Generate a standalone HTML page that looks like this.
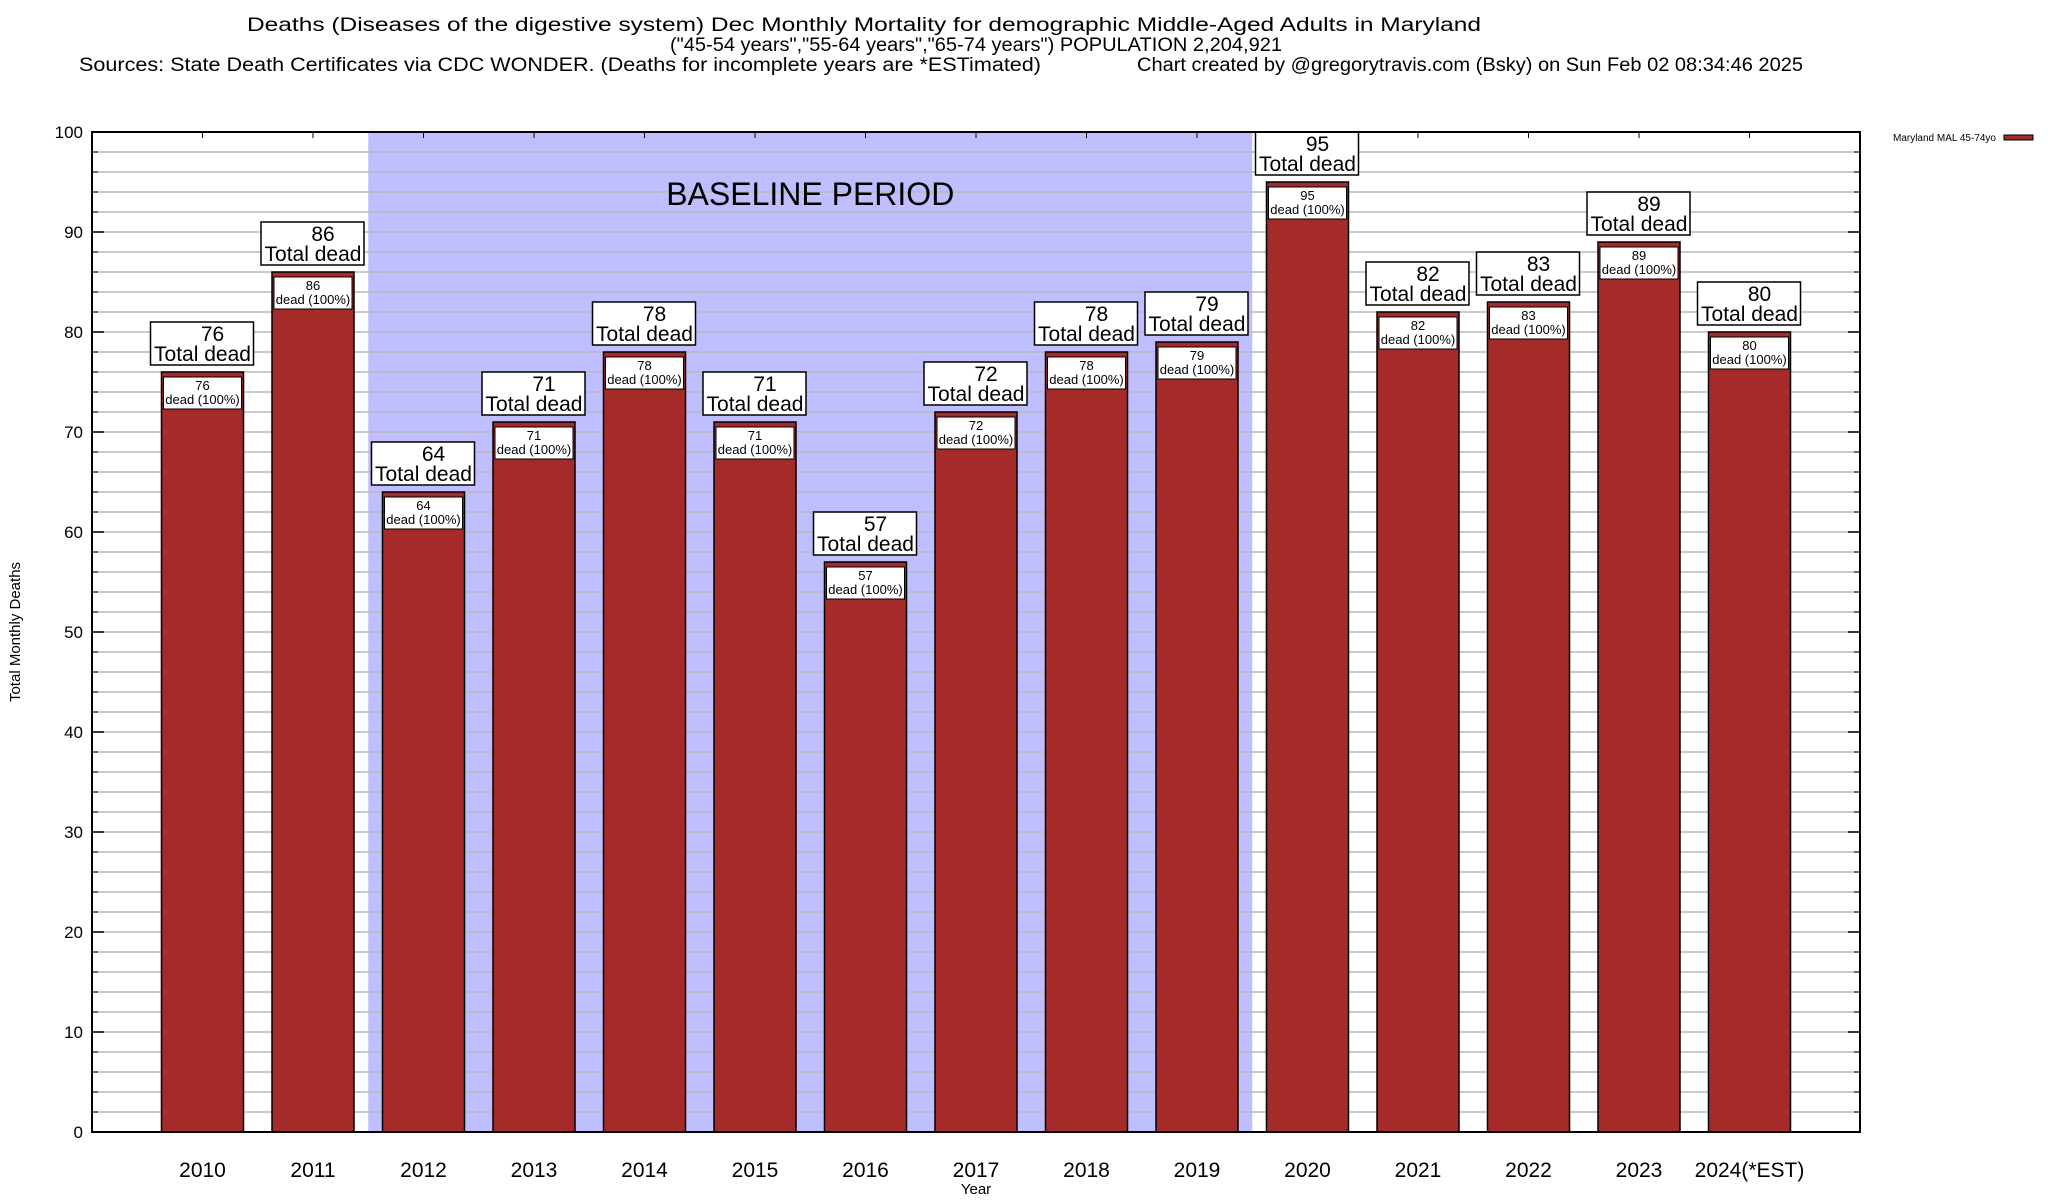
<!DOCTYPE html>
<html><head><meta charset="utf-8"><style>
body{margin:0;background:#fff}
svg{display:block;font-family:"Liberation Sans",sans-serif}
</style></head><body>
<svg id="chart" width="2048" height="1200" viewBox="0 0 2048 1200" xmlns="http://www.w3.org/2000/svg">
<g font-size="19" text-anchor="start">
<text x="247" y="31" textLength="1234" lengthAdjust="spacingAndGlyphs">Deaths (Diseases of the digestive system) Dec Monthly Mortality for demographic Middle-Aged Adults in Maryland</text>
<text x="670" y="51" textLength="612" lengthAdjust="spacingAndGlyphs">("45-54 years","55-64 years","65-74 years") POPULATION 2,204,921</text>
<text x="79" y="71" textLength="962" lengthAdjust="spacingAndGlyphs">Sources: State Death Certificates via CDC WONDER. (Deaths for incomplete years are *ESTimated)</text>
<text x="1137" y="71" textLength="666" lengthAdjust="spacingAndGlyphs">Chart created by @gregorytravis.com (Bsky) on Sun Feb 02 08:34:46 2025</text>
</g>
<g id="plot"></g>
<text x="20" y="632" font-size="15" text-anchor="middle" transform="rotate(-90 20 632)">Total Monthly Deaths</text>
<text x="976" y="1194" font-size="15" text-anchor="middle">Year</text>
<g>
<text x="1996" y="141" font-size="10" text-anchor="end">Maryland MAL 45-74yo</text>
<rect x="2004" y="135" width="29" height="5" fill="#a52a2a" stroke="#000" stroke-width="1"/>
</g>
</svg>
<script>
const categories=["2010","2011","2012","2013","2014","2015","2016","2017","2018","2019","2020","2021","2022","2023","2024(*EST)"];
const values=[76,86,64,71,78,71,57,72,78,79,95,82,83,89,80];
const yTicks=[0,10,20,30,40,50,60,70,80,90,100];
const baselineStart=2, baselineEnd=9;
const L=92,R=1860,T=132,B=1132,ymax=100;
const step=(R-L)/(categories.length+1);
const xs=i=>L+step*(i+1);
const ys=v=>B-(B-T)*v/ymax;
const NS="http://www.w3.org/2000/svg";
const g=document.getElementById('plot');
function mk(t,a,p){const e=document.createElementNS(NS,t);for(const k in a)e.setAttribute(k,a[k]);(p||g).appendChild(e);return e;}
let sh=mk('rect',{x:xs(baselineStart-0.5),y:T,width:xs(baselineEnd+0.5)-xs(baselineStart-0.5),height:B-T,fill:'#bfbfff'});


for(let v=2;v<ymax;v+=2){
 let ln=mk('line',{x1:L,x2:R,y1:ys(v),y2:ys(v),stroke:'#b8b8b8','stroke-width':1.5});
 
 
 mk('line',{x1:L,x2:L+6,y1:ys(v),y2:ys(v),stroke:'#000','stroke-width':1});
 mk('line',{x1:R-6,x2:R,y1:ys(v),y2:ys(v),stroke:'#000','stroke-width':1});
}
let bt=mk('text',{x:(xs(baselineStart-0.5)+xs(baselineEnd+0.5))/2,y:205,'font-size':32,'text-anchor':'middle'});
bt.textContent='BASELINE PERIOD';


yTicks.forEach(v=>{
 mk('line',{x1:L,x2:L+12,y1:ys(v),y2:ys(v),stroke:'#000','stroke-width':1.5});
 mk('line',{x1:R-12,x2:R,y1:ys(v),y2:ys(v),stroke:'#000','stroke-width':1.5});
 let t=mk('text',{x:83,y:ys(v)+6,'font-size':17,'text-anchor':'end'});
 t.textContent=v;
 
 
});
const bw=82;
values.forEach((v,i)=>{
 const cx=xs(i), top=ys(v);
 mk('line',{x1:cx,x2:cx,y1:T,y2:T+6,stroke:'#000','stroke-width':1});
 let b=mk('rect',{x:cx-bw/2,y:top,width:bw,height:B-top,fill:'#a52a2a',stroke:'#000','stroke-width':1.5});
 
 
 let ib=mk('rect',{x:cx-bw/2+2,y:top+5,width:bw-4,height:32,fill:'#fff',stroke:'#000','stroke-width':1});
 
 
 let t1=mk('text',{x:cx,y:top+18,'font-size':13,'text-anchor':'middle'});t1.textContent=v;
 
 
 let t2=mk('text',{x:cx,y:top+32,'font-size':13,'text-anchor':'middle'});t2.textContent='dead (100%)';
 
 
 let ob=mk('rect',{x:cx-52,y:top-50,width:103,height:43,fill:'#fff',stroke:'#000','stroke-width':1.5});
 
 
 let o1=mk('text',{x:cx+10,y:top-31,'font-size':21,'text-anchor':'middle'});o1.textContent=v;
 
 
 let o2=mk('text',{x:cx,y:top-11,'font-size':21,'text-anchor':'middle'});o2.textContent='Total dead';
 
 
 let xl=mk('text',{x:cx,y:1177,'font-size':21,'text-anchor':'middle'});xl.textContent=categories[i];
 
 
});
let fr=mk('rect',{x:L,y:T,width:R-L,height:B-T,fill:'none',stroke:'#000','stroke-width':2});


</script>
</body></html>
